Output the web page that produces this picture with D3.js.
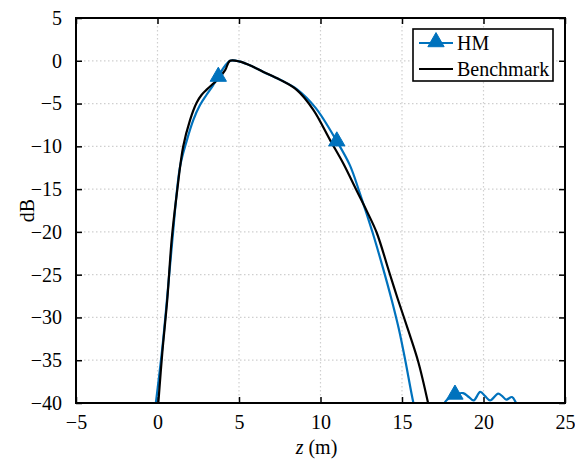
<!DOCTYPE html>
<html><head><meta charset="utf-8">
<script src="https://cdn.jsdelivr.net/npm/d3@7"></script>
<style>body{margin:0;background:#fff}svg{display:block}text{font-family:"Liberation Serif","Times New Roman","DejaVu Serif",serif !important;fill:#000}</style>
</head><body><svg id="c" width="575" height="464"></svg>
<script>
const xTicks = [-5, 0, 5, 10, 15, 20, 25];
const yTicks = [5, 0, -5, -10, -15, -20, -25, -30, -35, -40];
const seriesNames = ["HM", "Benchmark"];

const benchZ = [0.05, 0.3, 0.6, 0.87, 1.18, 1.58, 2.0, 2.4, 2.7, 3.0, 3.4, 3.7, 4.15, 4.45, 5.06, 5.86, 6.5, 7.5, 8.54, 9.55, 10.6, 11.4, 12.2, 12.85, 13.45, 14.2, 14.75, 15.4, 16.0, 16.6];
const benchY = [-40, -34, -27.9, -20.9, -15.6, -10.0, -6.9, -4.9, -4.0, -3.4, -2.7, -2.2, -1.1, 0.0, -0.1, -0.7, -1.3, -2.2, -3.4, -5.7, -9.3, -12.0, -15.1, -17.6, -20.1, -24.6, -27.9, -31.6, -35.2, -40];

const hmZ = [-0.1, 0.3, 0.6, 0.9, 1.38, 1.8, 2.2, 2.6, 3.0, 3.4, 3.73, 4.1, 4.45, 5.06, 5.86, 6.5, 7.5, 8.54, 9.7, 11.0, 11.8, 12.4, 13.2, 13.8, 14.36, 14.8, 15.2, 15.7, 16.2, 16.8, 17.3, 17.6, 17.9, 18.25, 18.75, 19.1, 19.4, 19.8, 20.1, 20.4, 20.9, 21.15, 21.4, 21.75, 22.0, 22.3];
const hmY = [-40, -33.5, -27.5, -21.2, -12.4, -9.3, -6.9, -5.2, -4.0, -2.9, -1.85, -0.7, 0.0, -0.1, -0.7, -1.3, -2.2, -3.3, -5.5, -9.4, -12.2, -15.4, -20.1, -24.0, -27.9, -31.3, -35, -40, -44, -46, -43, -40, -39.4, -39.0, -38.85, -39.3, -39.7, -38.7, -39.2, -39.7, -38.9, -39.2, -39.6, -39.3, -40, -41];
const hmMarkerIdx = [10, 19, 33];

const W = 575, H = 464;
const m = {l: 76, r: 10, t: 18, b: 61};
const FONT = '"Liberation Serif","Times New Roman",serif';
const svg = d3.select("#c");
const x = d3.scaleLinear().domain([-5, 25]).range([m.l, W - m.r]);
const y = d3.scaleLinear().domain([-40, 5]).range([H - m.b, m.t]);
const blue = "#0072BD";

svg.append("rect").attr("width", W).attr("height", H).attr("fill", "#fff");
svg.append("defs").append("clipPath").attr("id", "clip")
  .append("rect").attr("x", x(-5)).attr("y", y(5)).attr("width", x(25) - x(-5)).attr("height", y(-40) - y(5));

// grid
const grid = svg.append("g").attr("stroke", "#cfcfcf").attr("stroke-width", 1.2).attr("stroke-dasharray", "1.5,2.5");
xTicks.slice(1, -1).forEach(t => grid.append("line").attr("x1", x(t)).attr("x2", x(t)).attr("y1", y(5)).attr("y2", y(-40)));
yTicks.slice(1, -1).forEach(t => grid.append("line").attr("y1", y(t)).attr("y2", y(t)).attr("x1", x(-5)).attr("x2", x(25)));

// axes with D3 (ticks inward)
const axB = svg.append("g").attr("transform", `translate(0,${y(-40)})`)
  .call(d3.axisBottom(x).tickValues(xTicks).tickSize(-6).tickPadding(12).tickFormat(d3.format("d")));
const axT = svg.append("g").attr("transform", `translate(0,${y(5)})`)
  .call(d3.axisTop(x).tickValues(xTicks).tickSize(-6).tickFormat(""));
const axL = svg.append("g").attr("transform", `translate(${x(-5)},0)`)
  .call(d3.axisLeft(y).tickValues(yTicks).tickSize(-6).tickPadding(14).tickFormat(d3.format("d")));
const axR = svg.append("g").attr("transform", `translate(${x(25)},0)`)
  .call(d3.axisRight(y).tickValues(yTicks).tickSize(-6).tickFormat(""));
[axB, axT, axL, axR].forEach(a => {
  a.attr("font-family", FONT).attr("font-size", 20);
  a.select(".domain").remove();
  a.selectAll(".tick line").attr("stroke", "#000").attr("stroke-width", 1.5);
  a.selectAll("text").attr("fill", "#000");
});
axB.selectAll("text").attr("dy", "0.71em");

const line = d3.line().x(d => x(d[0])).y(d => y(d[1])).curve(d3.curveCatmullRom.alpha(0.5));
const plot = svg.append("g").attr("clip-path", "url(#clip)");
const hmData = hmZ.map((z, i) => [z, hmY[i]]);
const benchData = benchZ.map((z, i) => [z, benchY[i]]);
plot.append("path").datum(hmData).attr("d", line).attr("fill", "none").attr("stroke", blue).attr("stroke-width", 2.2);
plot.append("path").datum(benchData).attr("d", line).attr("fill", "none").attr("stroke", "#000").attr("stroke-width", 2.2);
const tri = d3.symbol().type(d3.symbolTriangle).size(115);
plot.selectAll(".mk").data(hmMarkerIdx.map(i => hmData[i])).enter().append("path")
  .attr("d", tri).attr("transform", d => `translate(${x(d[0])},${y(d[1])})`).attr("fill", blue).attr("stroke", blue).attr("stroke-width", 1);

// box
svg.append("rect").attr("x", x(-5)).attr("y", y(5)).attr("width", x(25) - x(-5)).attr("height", y(-40) - y(5))
  .attr("fill", "none").attr("stroke", "#000").attr("stroke-width", 2);

// labels
svg.append("text").attr("x", (x(-5) + x(25)) / 2 - 4).attr("y", 454).attr("text-anchor", "middle")
  .attr("font-family", FONT).attr("font-size", 20)
  .html('<tspan font-style="italic">z</tspan> (m)');
svg.append("text").attr("transform", `translate(34,${(y(5) + y(-40)) / 2}) rotate(-90)`).attr("text-anchor", "middle")
  .attr("font-family", FONT).attr("font-size", 20).text("dB");

// legend
const lg = svg.append("g").attr("font-family", FONT).attr("font-size", 20);
lg.append("rect").attr("x", 413).attr("y", 29).attr("width", 140).attr("height", 52).attr("fill", "#fff").attr("stroke", "#000").attr("stroke-width", 1.6);
lg.append("line").attr("x1", 419).attr("x2", 453).attr("y1", 43).attr("y2", 43).attr("stroke", blue).attr("stroke-width", 2.2);
lg.append("path").attr("d", tri).attr("transform", "translate(436,42)").attr("fill", blue).attr("stroke", blue);
lg.append("line").attr("x1", 419).attr("x2", 453).attr("y1", 69).attr("y2", 69).attr("stroke", "#000").attr("stroke-width", 2.2);
lg.append("text").attr("x", 457).attr("y", 50).text(seriesNames[0]);
lg.append("text").attr("x", 457).attr("y", 76).text(seriesNames[1]);
</script></body></html>
